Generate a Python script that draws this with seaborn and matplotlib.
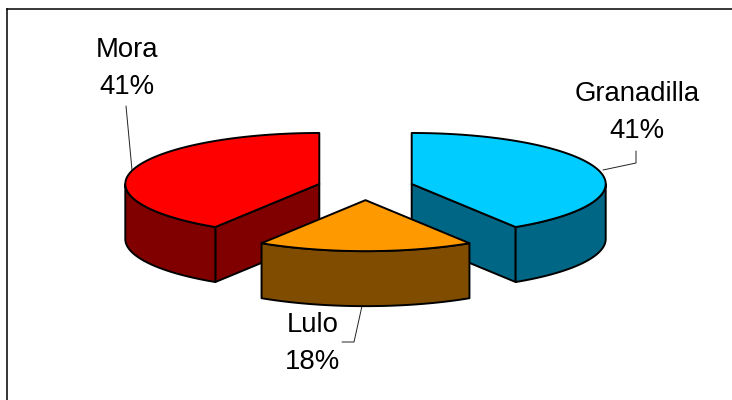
import numpy as np
import matplotlib.pyplot as plt
import seaborn as sns

# order = clockwise from 12 o'clock
names = ["Granadilla", "Lulo", "Mora"]
values = [41, 18, 41]
top_colors = ["#00CCFF", "#FF9900", "#FF0000"]
side_colors = ["#006685", "#804D00", "#800000"]

# where the pie sits on the canvas, in pixels
cx, cy = 365.5, 187.5
rx, ry = 194, 51
depth = 55
explode = 0.248

sns.set_theme(style="white")
plt.rcParams["font.family"] = ["Liberation Sans", "DejaVu Sans"]

fig = plt.figure(figsize=(7.32, 4), dpi=100)
ax = fig.add_axes([7 / 732, 0, 725 / 732, 391 / 400])
ax.set_xlim(7, 732)
ax.set_ylim(400, 9)
ax.set_xticks([])
ax.set_yticks([])
sns.despine(ax=ax, top=False, left=False, right=True, bottom=True)
for s in ["top", "left"]:
    ax.spines[s].set_color("black")
    ax.spines[s].set_linewidth(1.1)


def rim(x0, y0, a, b):
    # points on the ellipse, angle in degrees clockwise from the top
    t = np.radians(np.linspace(a, b, 80))
    return x0 + rx * np.sin(t), y0 - ry * np.cos(t)


edge = dict(edgecolor="black", linewidth=1.4, joinstyle="round")

shares = np.array(values) / sum(values) * 360
ends = np.cumsum(shares)
starts = ends - shares

# draw back to front: Mora, Granadilla, then Lulo on top
for z, i in enumerate([2, 0, 1]):
    a, b = starts[i], ends[i]
    mid = np.radians((a + b) / 2)
    x0 = cx + explode * rx * np.sin(mid)
    y0 = cy - explode * ry * np.cos(mid)

    # flat cut faces
    for ang, show in [(a, a > 180), (b, b < 180)]:
        if show:
            ex, ey = rim(x0, y0, ang, ang)
            ax.fill([x0, ex[0], ex[0], x0], [y0, ey[0], ey[0] + depth, y0 + depth],
                    facecolor=side_colors[i], zorder=z + 2, **edge)

    # outer wall, front half only
    lo, hi = max(a, 90), min(b, 270)
    if lo < hi:
        wx, wy = rim(x0, y0, lo, hi)
        ax.fill(np.r_[wx, wx[::-1]], np.r_[wy, wy[::-1] + depth],
                facecolor=side_colors[i], zorder=z + 2, **edge)

    # top
    tx, ty = rim(x0, y0, a, b)
    ax.fill(np.r_[x0, tx], np.r_[y0, ty], facecolor=top_colors[i], zorder=z + 2.5, **edge)

# labels with their leader lines
label_xy = [(637, 112.5), (313, 343.5), (127, 68.5)]
leaders = [
    ([636, 636, 603], [151, 163, 170]),
    ([342, 354, 362], [342, 342, 306]),
    ([126, 132], [106, 170]),
]
for name, val, xy, (lx, ly) in zip(names, values, label_xy, leaders):
    ax.plot(lx, ly, color="#222222", lw=0.7, zorder=1)
    ax.text(xy[0], xy[1], f"{name}\n{val}%", ha="center", va="center",
            fontsize=19.8, color="black", linespacing=1.56, zorder=10)

fig.savefig("out.png", dpi=100)
